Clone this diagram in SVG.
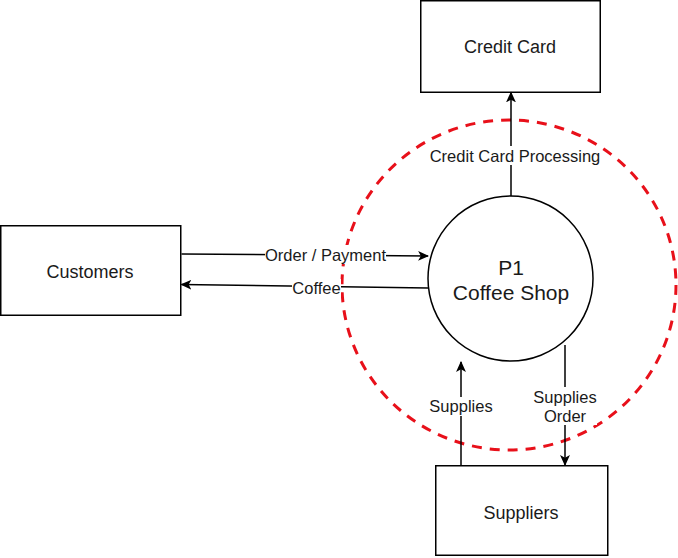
<svg xmlns="http://www.w3.org/2000/svg" width="678" height="558" viewBox="0 0 678 558">
<defs>
<marker id="arr" viewBox="0 0 10 10" refX="9" refY="5" markerWidth="11" markerHeight="11" orient="auto" markerUnits="userSpaceOnUse">
<path d="M0,0.5 L10,5 L0,9.5 L2.5,5 Z" fill="#000"/>
</marker>
<style>
.box{fill:#fff;stroke:#000;stroke-width:1.5}
.lbl{font-family:"Liberation Sans",Arial,sans-serif;font-size:18px;fill:#1a1a1a;text-anchor:middle}
.big{font-size:21px}
.edge{stroke:#000;stroke-width:1.5;fill:none;marker-end:url(#arr)}
.el{font-family:"Liberation Sans",Arial,sans-serif;font-size:16.5px;fill:#1a1a1a;text-anchor:middle}
.bg{fill:#fff}
</style>
</defs>
<rect width="678" height="558" fill="#fff"/>
<g id="boundary">
<ellipse cx="509" cy="285" rx="167" ry="165" fill="none" stroke="#e8101a" stroke-width="3" stroke-dasharray="10 8"/>
</g>
<g id="credit-card">
<rect class="box" x="420.75" y="0.75" width="179.5" height="91.5"/>
<text class="lbl" x="510" y="52.5">Credit Card</text>
</g>
<g id="customers">
<rect class="box" x="0.75" y="225.75" width="180" height="89.5"/>
<text class="lbl" x="90" y="277.5">Customers</text>
</g>
<g id="suppliers">
<rect class="box" x="435.75" y="465.75" width="172" height="89.5"/>
<text class="lbl" x="521" y="518.5">Suppliers</text>
</g>
<g id="coffee-shop">
<circle class="box" cx="510.5" cy="278.5" r="82.5"/>
<text class="lbl big" x="511" y="274.5">P1</text>
<text class="lbl big" x="511" y="300">Coffee Shop</text>
</g>
<g id="connectors">
<path class="edge" d="M511,196 L511,92.5"/>
<rect class="bg" x="430" y="146" width="170" height="19"/>
<text class="el" x="515" y="161.5">Credit Card Processing</text>
<path class="edge" d="M181.5,254 L428,256"/>
<rect class="bg" x="265" y="245" width="121" height="19"/>
<text class="el" x="325.5" y="260.5">Order / Payment</text>
<path class="edge" d="M428,288 L181.5,284.5"/>
<rect class="bg" x="292" y="279" width="49" height="19"/>
<text class="el" x="316.5" y="293.5">Coffee</text>
<path class="edge" d="M461,465 L461,362"/>
<rect class="bg" x="429" y="397" width="64" height="19"/>
<text class="el" x="461" y="411.5">Supplies</text>
<path class="edge" d="M565,345 L565,465"/>
<rect class="bg" x="533" y="387" width="64" height="38"/>
<text class="el" x="565" y="402.5">Supplies</text>
<text class="el" x="565" y="421.5">Order</text>
</g>
</svg>
